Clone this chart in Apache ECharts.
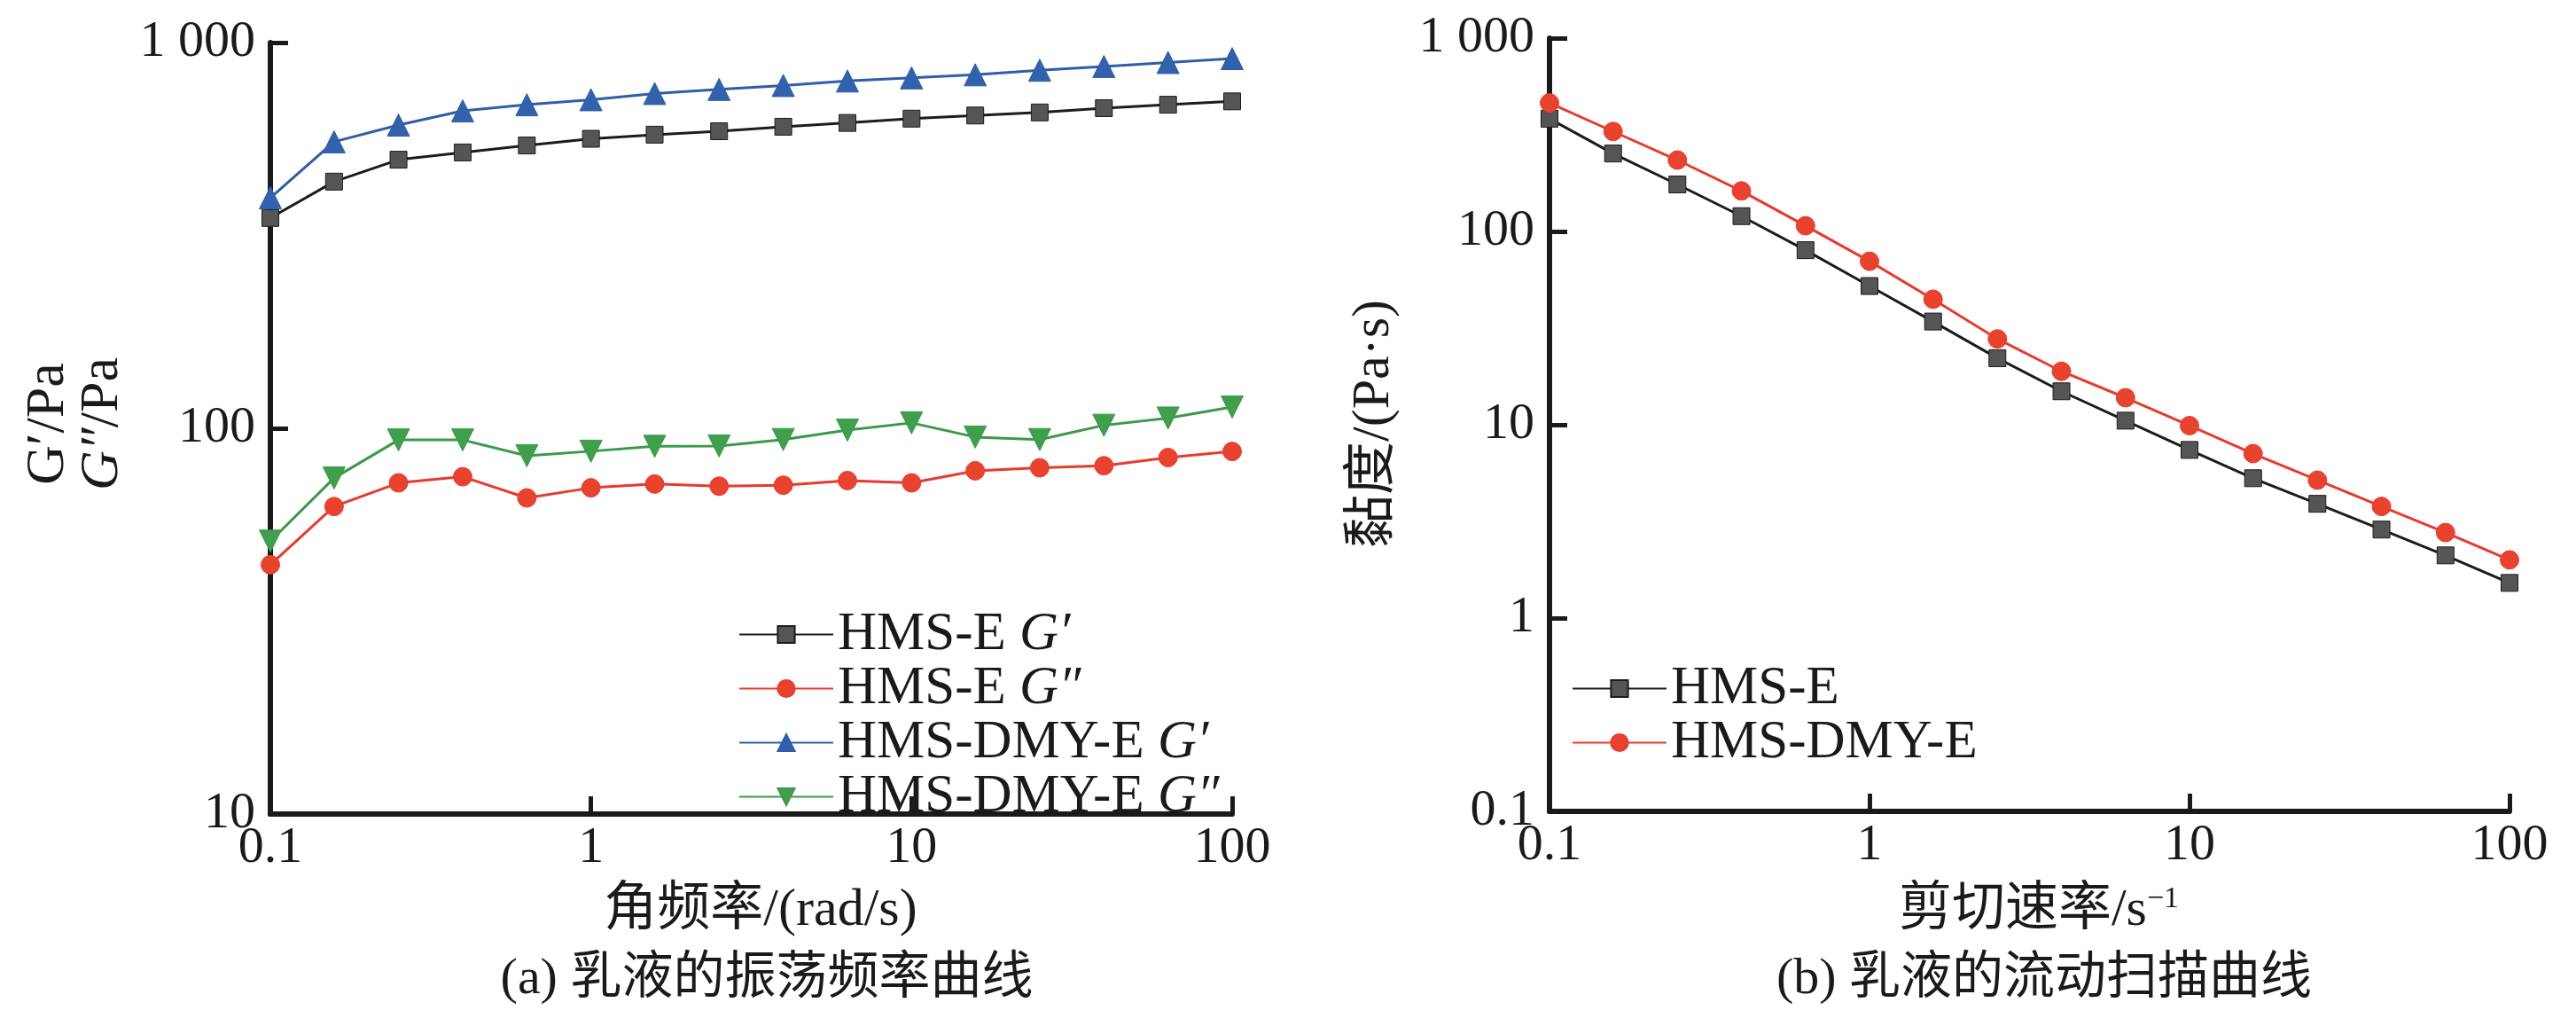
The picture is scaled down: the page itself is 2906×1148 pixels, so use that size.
<!DOCTYPE html>
<html>
<head>
<meta charset="utf-8">
<script src="https://cdn.jsdelivr.net/npm/echarts@6/dist/echarts.min.js"></script>
<style>
  html, body { margin: 0; padding: 0; background: #fff; }
  #chart { width: 2906px; height: 1148px; }
</style>
</head>
<body>
<div id="chart"></div>
<script>
// Данные: частоты / скорости сдвига (5 точек на декаду)
const freqs = [0.1, 0.158, 0.251, 0.398, 0.631, 1, 1.58, 2.51, 3.98, 6.31, 10, 15.8, 25.1, 39.8, 63.1, 100];

// (a) модули G', G''
const hmsG1 = [351, 436, 497, 519, 541, 563, 577, 589, 605, 619, 635, 647, 659, 676, 690, 704];
const hmsG2 = [44.3, 62.7, 72.2, 74.9, 66.0, 70.1, 71.7, 70.8, 71.2, 73.2, 72.2, 77.6, 79.0, 80.0, 84.0, 87.1];
const dmyG1 = [396, 553, 611, 665, 690, 711, 738, 756, 774, 795, 810, 825, 848, 867, 888, 909];
const dmyG2 = [51.0, 74.3, 93.3, 93.3, 84.9, 87.2, 89.8, 90.0, 93.5, 98.9, 103.3, 94.9, 93.5, 101.8, 106.3, 113.5];

// (b) вязкость
const hmsEta = [383, 253, 175, 120, 80, 52.2, 34.2, 22.1, 14.9, 10.5, 7.41, 5.29, 3.90, 2.87, 2.11, 1.52];
const dmyEta = [462, 329, 234, 162, 107, 70.1, 44.6, 27.8, 18.9, 13.8, 9.9, 7.09, 5.17, 3.78, 2.77, 2.0];

const namesA = ['HMS-E G′', 'HMS-E G″', 'HMS-DMY-E G′', 'HMS-DMY-E G″'];
const namesB = ['HMS-E', 'HMS-DMY-E'];

const SERIF = "'Liberation Serif', 'Times New Roman', 'Noto Sans CJK SC', serif";
const INK = '#1a1a1a';

const pairs = ys => freqs.map((x, i) => [x, ys[i]]);
const fmt = v => {
  const n = Number(Number(v).toPrecision(3));
  return n === 1000 ? '1 000' : String(n);
};

// Общий вид осей
function logAxis(extra) {
  return Object.assign({
    type: 'log',
    logBase: 10,
    axisLine: { show: true, lineStyle: { color: INK, width: 6 } },
    axisTick: { show: true, inside: true, length: 20, lineStyle: { color: INK, width: 5 } },
    minorTick: { show: false },
    splitLine: { show: false },
    axisLabel: { color: INK, fontFamily: SERIF, fontSize: 58, formatter: fmt }
  }, extra);
}

function lineSeries(name, data, color, fill, symbol, size, axisIdx, rotate) {
  return {
    name: name,
    type: 'line',
    xAxisIndex: axisIdx,
    yAxisIndex: axisIdx,
    data: data,
    symbol: symbol,
    symbolSize: size,
    symbolRotate: rotate || 0,
    showAllSymbol: true,
    lineStyle: { color: color, width: 3 },
    itemStyle: { color: fill, borderColor: color, borderWidth: 1, opacity: 1 },
    emphasis: { disabled: true },
    animation: false,
    z: 3
  };
}

const legendText = {
  color: INK, fontFamily: SERIF, fontSize: 61, lineHeight: 56,
  rich: { i: { color: INK, fontFamily: SERIF, fontSize: 61, fontStyle: 'italic', lineHeight: 56 } }
};

const chart = echarts.init(document.getElementById('chart'), null, { renderer: 'canvas' });

const option = {
  backgroundColor: '#ffffff',
  animation: false,
  grid: [
    { left: 305, top: 48, width: 1085, height: 870 },
    { left: 1748, top: 43, width: 1083, height: 872 }
  ],
  xAxis: [
    logAxis({ gridIndex: 0, min: 0.1, max: 100, splitNumber: 3,
      axisLabel: { color: INK, fontFamily: SERIF, fontSize: 58, margin: 10, formatter: fmt } }),
    logAxis({ gridIndex: 1, min: 0.1, max: 100, splitNumber: 3,
      axisLabel: { color: INK, fontFamily: SERIF, fontSize: 58, margin: 10, formatter: fmt } })
  ],
  yAxis: [
    logAxis({ gridIndex: 0, min: 10, max: 1000, splitNumber: 2,
      axisLabel: { color: INK, fontFamily: SERIF, fontSize: 58, margin: 17, formatter: fmt } }),
    logAxis({ gridIndex: 1, min: 0.1, max: 1000, splitNumber: 4,
      axisLabel: { color: INK, fontFamily: SERIF, fontSize: 58, margin: 17, formatter: fmt } })
  ],
  legend: [
    {
      data: namesA,
      orient: 'vertical',
      left: 828, top: 680,
      itemWidth: 106, itemHeight: 24, itemGap: 0,
      textStyle: legendText,
      formatter: n => n.replace(/G[′″]/, m => '{i|' + m + '}'),
      selectedMode: false
    },
    {
      data: namesB,
      orient: 'vertical',
      left: 1768, top: 741,
      itemWidth: 106, itemHeight: 24, itemGap: 0,
      textStyle: { color: INK, fontFamily: SERIF, fontSize: 61, lineHeight: 56 },
      selectedMode: false
    }
  ],
  series: [
    lineSeries(namesA[0], pairs(hmsG1), '#1c1c1c', '#555555', 'rect', 19, 0),
    lineSeries(namesA[1], pairs(hmsG2), '#e63b2e', '#e8432f', 'circle', 21, 0),
    lineSeries(namesA[2], pairs(dmyG1), '#2e5ea8', '#3362ad', 'triangle', 25, 0),
    lineSeries(namesA[3], pairs(dmyG2), '#3a9a48', '#3f9f4c', 'triangle', 25, 0, 180),
    lineSeries(namesB[0], pairs(hmsEta), '#1c1c1c', '#555555', 'rect', 19, 1),
    lineSeries(namesB[1], pairs(dmyEta), '#e63b2e', '#e8432f', 'circle', 21, 1)
  ],
  graphic: [
    // подписи осей Y
    { type: 'text', x: 55, y: 478, rotation: Math.PI / 2,
      style: { text: 'G′/Pa', fontFamily: SERIF, fontSize: 62, fill: INK, align: 'center', verticalAlign: 'middle' } },
    { type: 'text', x: 116, y: 478, rotation: Math.PI / 2,
      style: { text: '{i|G″}/Pa', fontFamily: SERIF, fontSize: 62, fill: INK, align: 'center', verticalAlign: 'middle',
        rich: { i: { fontFamily: SERIF, fontSize: 62, fontStyle: 'italic', fill: INK } } } },
    { type: 'text', x: 1550, y: 478, rotation: Math.PI / 2,
      style: { text: '黏度/(Pa·s)', fontFamily: SERIF, fontSize: 60, fill: INK, align: 'center', verticalAlign: 'middle' } },
    // подписи осей X
    { type: 'text', x: 858, y: 1027,
      style: { text: '角频率/(rad/s)', fontFamily: SERIF, fontSize: 60, fill: INK, align: 'center', verticalAlign: 'middle' } },
    { type: 'text', x: 2300, y: 1027,
      style: { text: '剪切速率/s{sup|−1}', fontFamily: SERIF, fontSize: 60, fill: INK, align: 'center', verticalAlign: 'middle',
        rich: { sup: { fontFamily: SERIF, fontSize: 34, fill: INK, verticalAlign: 'top', lineHeight: 60 } } } },
    // подписи панелей
    { type: 'text', x: 865, y: 1105,
      style: { text: '(a) 乳液的振荡频率曲线', fontFamily: SERIF, fontSize: 58, fill: INK, align: 'center', verticalAlign: 'middle' } },
    { type: 'text', x: 2306, y: 1105,
      style: { text: '(b) 乳液的流动扫描曲线', fontFamily: SERIF, fontSize: 58, fill: INK, align: 'center', verticalAlign: 'middle' } }
  ]
};

chart.setOption(option);
</script>
</body>
</html>
